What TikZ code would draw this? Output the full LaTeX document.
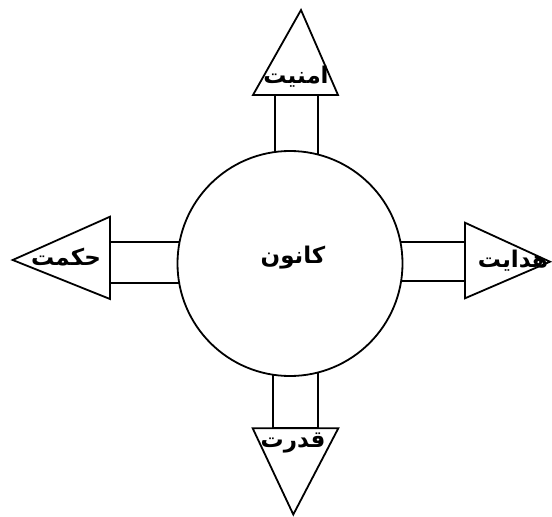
\documentclass[tikz,border=0pt]{standalone}
\usepackage{fontspec}
\newfontfamily\arabicfont[Script=Arabic]{DejaVu Sans}
\TeXXeTstate=1
\begin{document}
\begin{tikzpicture}[x=1pt, y=-1pt, line width=1.8pt, line join=miter,
    farsi/.style={font=\arabicfont\bfseries\fontsize{23}{26}\selectfont, inner sep=0pt},
    shaft/.style={draw, fill=white},
    head/.style={draw, fill=white}]
    \useasboundingbox (0,0) rectangle (552,517);

    % Shafts (their inner ends are hidden by the circle)
    \draw[shaft] (275,95) rectangle (318,263);
    \draw[shaft] (110,242.3) rectangle (290,283.3);
    \draw[shaft] (290,241.7) rectangle (465,281);
    \draw[shaft] (273.3,263) rectangle (317.7,428.3);

    % Centre
    \node[circle, draw, fill=white, minimum size=225pt, inner sep=0pt] (kanun) at (290,263.5) {};
    \node[farsi] (kanunText) at (293,258) {\beginR کانون\endR};

    % Heads
    \draw[head] (301,10) -- (253,95) -- (338,95) -- cycle;
    \draw[head] (12.7,260) -- (110,216.7) -- (110,299) -- cycle;
    \draw[head] (550,261.7) -- (465,222.7) -- (465,298.3) -- cycle;
    \draw[head] (293.3,514.5) -- (252.7,428.3) -- (338.3,428.3) -- cycle;

    % Head labels
    \node[farsi] (amniyat) at (296,77) {\beginR امنیت\endR};
    \node[farsi] (hekmat) at (66,257) {\beginR حکمت\endR};
    \node[farsi] (hedayat) at (513,261) {\beginR هدایت\endR};
    \node[farsi] (qodrat) at (293,443) {\beginR قدرت\endR};
\end{tikzpicture}
\end{document}
